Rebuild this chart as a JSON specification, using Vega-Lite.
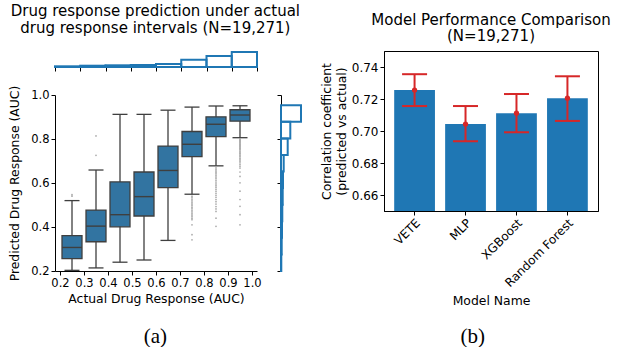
{
  "$schema": "https://vega.github.io/schema/vega-lite/v6.json",
  "background": "white",
  "padding": {"left": 8, "top": 4, "right": 0, "bottom": 0},
  "config": {
    "font": "DejaVu Sans",
    "view": {"stroke": null},
    "axis": {"grid": false, "labelFont": "DejaVu Sans", "titleFont": "DejaVu Sans", "labelFontSize": 11.5, "titleFontSize": 12.4, "titleFontWeight": "normal", "labelColor": "#000", "titleColor": "#000", "domainColor": "#000", "tickColor": "#000", "tickSize": 4, "labelPadding": 2, "labelFlush": false, "labelOverlap": false, "titlePadding": 8},
    "title": {"font": "DejaVu Sans", "fontSize": 15, "fontWeight": "normal", "color": "#000", "anchor": "middle", "lineHeight": 16.5}
  },
  "datasets": {
    "boxes": [
      {"x": 0.25, "lower": 0.203, "q1": 0.256, "median": 0.307, "q3": 0.361, "upper": 0.520},
      {"x": 0.35, "lower": 0.214, "q1": 0.333, "median": 0.404, "q3": 0.477, "upper": 0.659},
      {"x": 0.45, "lower": 0.240, "q1": 0.401, "median": 0.456, "q3": 0.605, "upper": 0.912},
      {"x": 0.55, "lower": 0.250, "q1": 0.450, "median": 0.538, "q3": 0.650, "upper": 0.912},
      {"x": 0.65, "lower": 0.339, "q1": 0.579, "median": 0.657, "q3": 0.768, "upper": 0.931},
      {"x": 0.75, "lower": 0.549, "q1": 0.720, "median": 0.776, "q3": 0.834, "upper": 0.945},
      {"x": 0.85, "lower": 0.678, "q1": 0.811, "median": 0.867, "q3": 0.901, "upper": 0.950},
      {"x": 0.95, "lower": 0.806, "q1": 0.881, "median": 0.909, "q3": 0.933, "upper": 0.951}
    ],
    "fliers": [
      {"x": 0.25, "y": 0.547}, {"x": 0.25, "y": 0.540},
      {"x": 0.35, "y": 0.814}, {"x": 0.35, "y": 0.726},
      {"x": 0.75, "y": 0.540}, {"x": 0.75, "y": 0.533}, {"x": 0.75, "y": 0.526}, {"x": 0.75, "y": 0.519}, {"x": 0.75, "y": 0.512}, {"x": 0.75, "y": 0.505}, {"x": 0.75, "y": 0.498}, {"x": 0.75, "y": 0.490}, {"x": 0.75, "y": 0.483}, {"x": 0.75, "y": 0.476}, {"x": 0.75, "y": 0.469}, {"x": 0.75, "y": 0.462}, {"x": 0.75, "y": 0.455}, {"x": 0.75, "y": 0.448}, {"x": 0.75, "y": 0.440}, {"x": 0.75, "y": 0.433}, {"x": 0.75, "y": 0.410}, {"x": 0.75, "y": 0.365}, {"x": 0.75, "y": 0.342},
      {"x": 0.85, "y": 0.669}, {"x": 0.85, "y": 0.662}, {"x": 0.85, "y": 0.655}, {"x": 0.85, "y": 0.648}, {"x": 0.85, "y": 0.641}, {"x": 0.85, "y": 0.634}, {"x": 0.85, "y": 0.627}, {"x": 0.85, "y": 0.620}, {"x": 0.85, "y": 0.612}, {"x": 0.85, "y": 0.604}, {"x": 0.85, "y": 0.596}, {"x": 0.85, "y": 0.588}, {"x": 0.85, "y": 0.580}, {"x": 0.85, "y": 0.571}, {"x": 0.85, "y": 0.562}, {"x": 0.85, "y": 0.553}, {"x": 0.85, "y": 0.544}, {"x": 0.85, "y": 0.535}, {"x": 0.85, "y": 0.525}, {"x": 0.85, "y": 0.515}, {"x": 0.85, "y": 0.504}, {"x": 0.85, "y": 0.493}, {"x": 0.85, "y": 0.482}, {"x": 0.85, "y": 0.471}, {"x": 0.85, "y": 0.440}, {"x": 0.85, "y": 0.403},
      {"x": 0.95, "y": 0.800}, {"x": 0.95, "y": 0.795}, {"x": 0.95, "y": 0.790}, {"x": 0.95, "y": 0.785}, {"x": 0.95, "y": 0.780}, {"x": 0.95, "y": 0.775}, {"x": 0.95, "y": 0.770}, {"x": 0.95, "y": 0.765}, {"x": 0.95, "y": 0.760}, {"x": 0.95, "y": 0.755}, {"x": 0.95, "y": 0.750}, {"x": 0.95, "y": 0.744}, {"x": 0.95, "y": 0.738}, {"x": 0.95, "y": 0.732}, {"x": 0.95, "y": 0.726}, {"x": 0.95, "y": 0.720}, {"x": 0.95, "y": 0.713}, {"x": 0.95, "y": 0.706}, {"x": 0.95, "y": 0.699}, {"x": 0.95, "y": 0.692}, {"x": 0.95, "y": 0.684}, {"x": 0.95, "y": 0.676}, {"x": 0.95, "y": 0.668}, {"x": 0.95, "y": 0.650}, {"x": 0.95, "y": 0.630}, {"x": 0.95, "y": 0.601}, {"x": 0.95, "y": 0.563}, {"x": 0.95, "y": 0.525}, {"x": 0.95, "y": 0.494}, {"x": 0.95, "y": 0.456}, {"x": 0.95, "y": 0.410}
    ],
    "tophist": [
      {"start": 0.2, "end": 0.3, "count": 321},
      {"start": 0.3, "end": 0.4, "count": 596},
      {"start": 0.4, "end": 0.5, "count": 780},
      {"start": 0.5, "end": 0.6, "count": 918},
      {"start": 0.6, "end": 0.7, "count": 1376},
      {"start": 0.7, "end": 0.8, "count": 3349},
      {"start": 0.8, "end": 0.9, "count": 5047},
      {"start": 0.9, "end": 1.0, "count": 6884}
    ],
    "righthist": [
      {"start": 0.200, "end": 0.275, "count": 126},
      {"start": 0.275, "end": 0.351, "count": 295},
      {"start": 0.351, "end": 0.426, "count": 422},
      {"start": 0.426, "end": 0.501, "count": 548},
      {"start": 0.501, "end": 0.577, "count": 717},
      {"start": 0.577, "end": 0.652, "count": 843},
      {"start": 0.652, "end": 0.727, "count": 1139},
      {"start": 0.727, "end": 0.802, "count": 2825},
      {"start": 0.802, "end": 0.878, "count": 3922},
      {"start": 0.878, "end": 0.953, "count": 8434}
    ],
    "models": [
      {"model": "VETE", "r": 0.7256, "lo": 0.7156, "hi": 0.7355},
      {"model": "MLP", "r": 0.7043, "lo": 0.6936, "hi": 0.7156},
      {"model": "XGBoost", "r": 0.7111, "lo": 0.6992, "hi": 0.7231},
      {"model": "Random Forest", "r": 0.7205, "lo": 0.7063, "hi": 0.7342}
    ]
  },
  "hconcat": [
    {
      "title": {"text": "(a)", "orient": "bottom", "font": "Liberation Serif", "fontSize": 21, "offset": 21},
      "vconcat": [
        {
          "title": {"text": ["Drug response prediction under actual", "drug response intervals (N=19,271)"], "offset": 15},
          "columns": 2,
          "align": "each",
          "spacing": {"row": 13, "column": 14},
          "concat": [
            {
              "width": 202, "height": 16,
              "data": {"name": "tophist"},
              "mark": {"type": "rect", "fillOpacity": 0, "stroke": "#1f77b4", "strokeWidth": 2},
              "encoding": {
                "x": {"field": "start", "type": "quantitative", "scale": {"domain": [0.2, 1.0], "nice": false, "zero": false}, "axis": {"values": [0.2, 0.3, 0.4, 0.5, 0.6, 0.7, 0.8, 0.9, 1.0], "tickCount": 20, "labels": false, "title": null}},
                "x2": {"field": "end"},
                "y": {"field": "count", "type": "quantitative", "scale": {"domain": [0, 7340], "nice": false}, "axis": null},
                "y2": {"datum": 0}
              }
            },
            {
              "width": 21, "height": 16,
              "data": {"values": [{"a": 1}]},
              "mark": {"type": "point", "opacity": 0},
              "encoding": {}
            },
            {
              "width": 202, "height": 176,
              "layer": [
                {
                  "data": {"name": "boxes"},
                  "mark": {"type": "rule", "color": "#3f3f3f", "strokeWidth": 1.3},
                  "encoding": {
                    "x": {"field": "x", "type": "quantitative", "scale": {"domain": [0.2, 1.0], "nice": false, "zero": false}, "axis": {"values": [0.2, 0.3, 0.4, 0.5, 0.6, 0.7, 0.8, 0.9, 1.0], "tickCount": 20, "format": ".1f", "title": "Actual Drug Response (AUC)", "titlePadding": 4, "labelOverlap": false, "labelFlush": false}},
                    "y": {"field": "lower", "type": "quantitative", "scale": {"domain": [0.2, 1.0], "nice": false, "zero": false}, "axis": {"values": [0.2, 0.4, 0.6, 0.8, 1.0], "tickCount": 20, "format": ".1f", "title": "Predicted Drug Response (AUC)", "labelOverlap": false, "titlePadding": 9}},
                    "y2": {"field": "upper"}
                  }
                },
                {
                  "data": {"name": "boxes"},
                  "mark": {"type": "tick", "orient": "horizontal", "color": "#3f3f3f", "size": 15, "thickness": 1.3, "opacity": 1},
                  "encoding": {"x": {"field": "x", "type": "quantitative"}, "y": {"field": "lower", "type": "quantitative"}}
                },
                {
                  "data": {"name": "boxes"},
                  "mark": {"type": "tick", "orient": "horizontal", "color": "#3f3f3f", "size": 15, "thickness": 1.3, "opacity": 1},
                  "encoding": {"x": {"field": "x", "type": "quantitative"}, "y": {"field": "upper", "type": "quantitative"}}
                },
                {
                  "data": {"name": "boxes"},
                  "mark": {"type": "bar", "width": 20, "fill": "#3274a1", "stroke": "#3f3f3f", "strokeWidth": 1.3, "opacity": 1},
                  "encoding": {"x": {"field": "x", "type": "quantitative"}, "y": {"field": "q1", "type": "quantitative"}, "y2": {"field": "q3"}}
                },
                {
                  "data": {"name": "boxes"},
                  "mark": {"type": "tick", "orient": "horizontal", "color": "#3f3f3f", "size": 20, "thickness": 1.4, "opacity": 1},
                  "encoding": {"x": {"field": "x", "type": "quantitative"}, "y": {"field": "median", "type": "quantitative"}}
                },
                {
                  "data": {"name": "fliers"},
                  "mark": {"type": "circle", "color": "#555555", "size": 3, "opacity": 0.5},
                  "encoding": {"x": {"field": "x", "type": "quantitative"}, "y": {"field": "y", "type": "quantitative"}}
                }
              ]
            },
            {
              "width": 21, "height": 176,
              "data": {"name": "righthist"},
              "mark": {"type": "rect", "fillOpacity": 0, "stroke": "#1f77b4", "strokeWidth": 2},
              "encoding": {
                "y": {"field": "start", "type": "quantitative", "scale": {"domain": [0.2, 1.0], "nice": false, "zero": false}, "axis": {"values": [0.2, 0.4, 0.6, 0.8, 1.0], "tickCount": 20, "labels": false, "title": null}},
                "y2": {"field": "end"},
                "x": {"field": "count", "type": "quantitative", "scale": {"domain": [0, 8856], "nice": false}, "axis": null},
                "x2": {"datum": 0}
              }
            }
          ]
        }
      ]
    },
    {
      "title": {"text": "(b)", "orient": "bottom", "font": "Liberation Serif", "fontSize": 21, "offset": 18, "dx": 7},
      "vconcat": [
        {
          "width": 214, "height": 160,
          "data": {"name": "models"},
          "view": {"stroke": "#000", "strokeWidth": 1},
          "title": {"text": ["Model Performance Comparison", "(N=19,271)"], "offset": 7},
          "encoding": {
            "x": {"field": "model", "type": "nominal", "sort": null, "scale": {"paddingInner": 0.2, "paddingOuter": 0.2}, "axis": {"labelAngle": -45, "title": "Model Name", "titlePadding": 6, "labelFontSize": 12}}
          },
          "layer": [
            {
              "mark": {"type": "bar", "color": "#1f77b4", "clip": true},
              "encoding": {"y": {"field": "r", "type": "quantitative", "scale": {"domain": [0.65, 0.75], "zero": false, "nice": false}, "axis": {"values": [0.66, 0.68, 0.70, 0.72, 0.74], "tickCount": 20, "format": ".2f", "labelOverlap": false, "labelFontSize": 12, "titlePadding": 3, "title": ["Correlation coefficient", "(predicted vs actual)"]}}}
            },
            {
              "mark": {"type": "rule", "color": "#d62728", "strokeWidth": 2},
              "encoding": {"y": {"field": "lo", "type": "quantitative"}, "y2": {"field": "hi"}}
            },
            {
              "mark": {"type": "tick", "orient": "horizontal", "color": "#d62728", "size": 25, "thickness": 2, "opacity": 1},
              "encoding": {"y": {"field": "lo", "type": "quantitative"}}
            },
            {
              "mark": {"type": "tick", "orient": "horizontal", "color": "#d62728", "size": 25, "thickness": 2, "opacity": 1},
              "encoding": {"y": {"field": "hi", "type": "quantitative"}}
            },
            {
              "mark": {"type": "circle", "color": "#d62728", "size": 28, "opacity": 1},
              "encoding": {"y": {"field": "r", "type": "quantitative"}}
            }
          ]
        }
      ]
    }
  ],
  "spacing": 18
}
